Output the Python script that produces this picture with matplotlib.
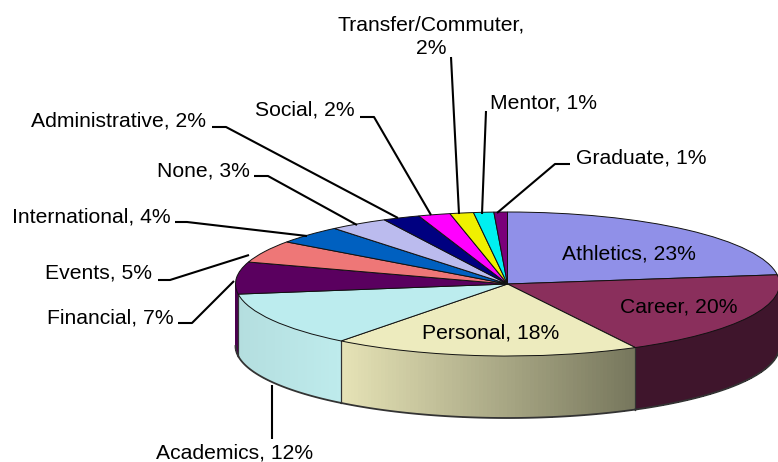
import numpy as np
import matplotlib
matplotlib.use("Agg")
import matplotlib.pyplot as plt
from matplotlib.colors import to_rgb

categories = ["Athletics", "Career", "Personal", "Academics", "Financial", "Events",
              "International", "None", "Administrative", "Social", "Transfer/Commuter",
              "Mentor", "Graduate"]
shown_pct = [23, 20, 18, 12, 7, 5, 4, 3, 2, 2, 2, 1, 1]
# slice sizes as measured on the picture (the printed labels are rounded)
values = [23.0, 19.3, 18.3, 12.3, 7.2, 5.0, 4.1, 3.5, 2.2, 1.9, 1.4, 1.2, 0.8]
colors = ["#9090E8", "#8A2F5C", "#EDEBBE", "#BCECEE", "#5A005F", "#EE7777",
          "#0060C0", "#BBBBEE", "#000080", "#FF00FF", "#F0F000", "#00F0F0", "#7A007A"]
wall_left = ["#9090E8", "#3F152C", "#E6E3B6", "#B4DEDF", "#4A004E", "#EE7777",
             "#0060C0", "#BBBBEE", "#000080", "#FF00FF", "#F0F000", "#00F0F0", "#7A007A"]
wall_right = ["#9090E8", "#3F152C", "#76765C", "#BEEBEC", "#4A004E", "#EE7777",
              "#0060C0", "#BBBBEE", "#000080", "#FF00FF", "#F0F000", "#00F0F0", "#7A007A"]

W, H = 778, 462
CX, CY, RX, RY, DEPTH = 507.5, 284.0, 272.0, 72.0, 62.0

plt.rcParams["font.family"] = ["Liberation Sans", "DejaVu Sans"]
fig = plt.figure(figsize=(W / 100, H / 100), dpi=100, facecolor="white")

# pie axes: one data unit is one radius, so the circle becomes the tilted ellipse
ax = fig.add_axes([0, 0, 1, 1], facecolor="none")
xlim = ((0 - CX) / RX, (W - CX) / RX)
ylim = ((CY - H) / RY, CY / RY)
d = DEPTH / RY

fracs = np.array(values) / np.sum(values)
edges = np.concatenate([[0], np.cumsum(fracs)]) * 360.0

# side wall, front half only
for i in range(len(values)):
    a0, a1 = max(edges[i], 90.0), min(edges[i + 1], 270.0)
    if a1 <= a0:
        continue
    th = np.radians(np.linspace(a0, a1, 80))
    x, y = np.sin(th), np.cos(th)
    c0, c1 = np.array(to_rgb(wall_left[i])), np.array(to_rgb(wall_right[i]))
    xmin, xmax = x.min(), x.max()
    for k in range(len(th) - 1):
        t = (0.5 * (x[k] + x[k + 1]) - xmin) / max(xmax - xmin, 1e-6)
        col = c0 + (c1 - c0) * t
        ax.fill([x[k], x[k + 1], x[k + 1], x[k]],
                [y[k], y[k + 1], y[k + 1] - d, y[k] - d],
                facecolor=col, edgecolor="none", lw=0, antialiased=False, zorder=1)
    ax.plot(x, y - d, color="#333333", lw=1.3, zorder=2)
    for e in (a0, a1):
        if 90.0 < e < 270.0:
            s, c = np.sin(np.radians(e)), np.cos(np.radians(e))
            ax.plot([s, s], [c, c - d], color="#333333", lw=0.8, zorder=2)

ax.pie(values, colors=colors, startangle=90, counterclock=False, radius=1.0,
       wedgeprops=dict(edgecolor="#111111", linewidth=0.7, zorder=3), frame=True)
ax.set_aspect("auto")
ax.set_xlim(*xlim)
ax.set_ylim(*ylim)
ax.axis("off")

# annotation layer in pixels
ov = fig.add_axes([0, 0, 1, 1], facecolor="none")
ov.set_xlim(0, W)
ov.set_ylim(H, 0)
ov.axis("off")

leaders = {
    "Academics": [(272, 385), (272, 439)],
    "Financial": [(178, 323), (192, 323), (234, 281)],
    "Events": [(158, 280), (170, 280), (249, 255)],
    "International": [(175, 222), (187, 222), (307, 236)],
    "None": [(254, 176), (268, 176), (357, 225)],
    "Administrative": [(212, 127), (226, 127), (398, 218)],
    "Social": [(360, 117), (374, 117), (431, 215)],
    "Transfer/Commuter": [(451, 57), (459, 214)],
    "Mentor": [(486, 111), (482, 214)],
    "Graduate": [(570, 164), (555, 164), (497, 213)],
}
for pts in leaders.values():
    xs, ys = zip(*pts)
    ov.plot(xs, ys, color="black", lw=1.5, solid_capstyle="butt", zorder=5)

text_pos = {
    "Athletics": (562, 254), "Career": (620, 307), "Personal": (422, 333),
    "Academics": (156, 453), "Financial": (47, 318), "Events": (45, 273),
    "International": (12, 217), "None": (157, 171), "Administrative": (31, 121),
    "Social": (255, 110), "Mentor": (490, 103), "Graduate": (576, 158),
}
FS = 15.2
for name, pct in zip(categories, shown_pct):
    if name == "Transfer/Commuter":
        ov.text(431, 25, f"{name},", fontsize=FS, ha="center", va="center", zorder=6)
        ov.text(431, 49, f"{pct}%", fontsize=FS, ha="center", va="center", zorder=6)
    else:
        px, py = text_pos[name]
        ov.text(px, py, f"{name}, {pct}%", fontsize=FS, ha="left", va="center", zorder=6)

fig.savefig("out.png", dpi=100, facecolor="white")
